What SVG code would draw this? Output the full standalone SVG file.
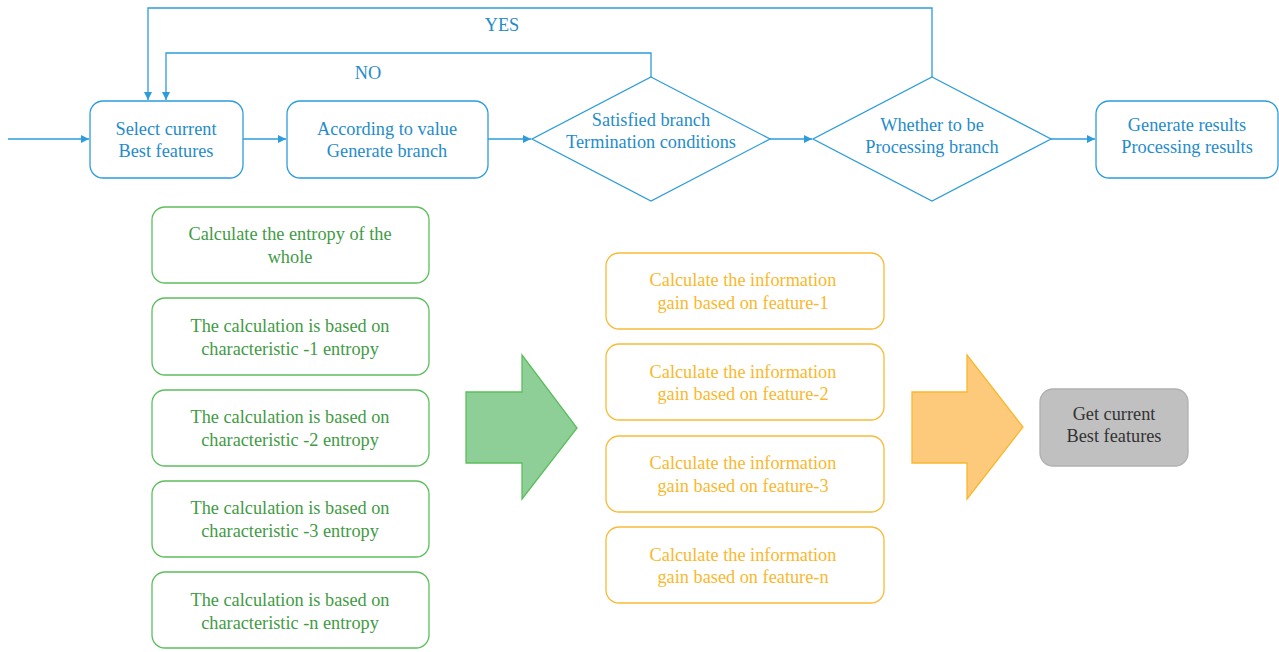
<svg xmlns="http://www.w3.org/2000/svg" width="1279" height="652" viewBox="0 0 1279 652">
<style>
.b{fill:#fff;stroke:#2d9cdb;stroke-width:1.3}
.bt{fill:#1f8ccb}
.g{fill:#fff;stroke:#5cbf5c;stroke-width:1.3}
.gt{fill:#3f9b45}
.o{fill:#fff;stroke:#f9bb36;stroke-width:1.3}
.ot{fill:#f9b82e}
.ln{fill:none;stroke:#2d9cdb;stroke-width:1.3}
</style>
<defs>
<marker id="ar" viewBox="0 0 10 10" refX="10" refY="5" markerWidth="8" markerHeight="8" markerUnits="userSpaceOnUse" orient="auto">
<path d="M0,0 L10,5 L0,10 z" fill="#2d9cdb"/>
</marker>
</defs>
<rect width="1279" height="652" fill="#fff"/>
<g font-family="'Liberation Serif', 'Times New Roman', serif" font-size="18.3" text-anchor="middle">
<g id="connectors">
<line class="ln" x1="8" y1="139" x2="89" y2="139" marker-end="url(#ar)"/>
<line class="ln" x1="243" y1="139" x2="286" y2="139" marker-end="url(#ar)"/>
<line class="ln" x1="488" y1="139" x2="531" y2="139" marker-end="url(#ar)"/>
<line class="ln" x1="770" y1="139" x2="812" y2="139" marker-end="url(#ar)"/>
<line class="ln" x1="1051" y1="139" x2="1095" y2="139" marker-end="url(#ar)"/>
<polyline class="ln" points="651,77 651,53 166,53 166,100" marker-end="url(#ar)"/>
<polyline class="ln" points="932,77 932,8 148,8 148,100" marker-end="url(#ar)"/>
<text x="502" y="31" class="bt">YES</text>
<text x="368" y="79" class="bt">NO</text>
</g>
<g id="n1"><rect class="b" x="90" y="101" width="153" height="77" rx="13"/><text class="bt" x="166" y="135">Select current</text><text class="bt" x="166" y="157">Best features</text></g>
<g id="n2"><rect class="b" x="287" y="101" width="201" height="77" rx="13"/><text class="bt" x="387" y="135">According to value</text><text class="bt" x="387" y="157">Generate branch</text></g>
<g id="n3"><polygon class="b" points="651,77 770,139 651,201 532,139"/><text class="bt" x="651" y="126">Satisfied branch</text><text class="bt" x="651" y="148">Termination conditions</text></g>
<g id="n4"><polygon class="b" points="932,77 1051,139 932,201 813,139"/><text class="bt" x="932" y="131">Whether to be</text><text class="bt" x="932" y="153">Processing branch</text></g>
<g id="n5"><rect class="b" x="1096" y="101" width="182" height="77" rx="13"/><text class="bt" x="1187" y="131">Generate results</text><text class="bt" x="1187" y="153">Processing results</text></g>
<g id="g0"><rect class="g" x="152" y="207" width="277" height="76" rx="13"/><text class="gt" x="290" y="240">Calculate the entropy of the</text><text class="gt" x="290" y="263">whole</text></g>
<g id="g1"><rect class="g" x="152" y="298" width="277" height="77" rx="13"/><text class="gt" x="290" y="332">The calculation is based on</text><text class="gt" x="290" y="355">characteristic -1 entropy</text></g>
<g id="g2"><rect class="g" x="152" y="390" width="277" height="76" rx="13"/><text class="gt" x="290" y="423">The calculation is based on</text><text class="gt" x="290" y="446">characteristic -2 entropy</text></g>
<g id="g3"><rect class="g" x="152" y="481" width="277" height="76" rx="13"/><text class="gt" x="290" y="514">The calculation is based on</text><text class="gt" x="290" y="537">characteristic -3 entropy</text></g>
<g id="g4"><rect class="g" x="152" y="572" width="277" height="76" rx="13"/><text class="gt" x="290" y="606">The calculation is based on</text><text class="gt" x="290" y="629">characteristic -n entropy</text></g>
<g id="arrowGreen"><polygon points="466,392 522,392 522,355 577,428 522,499 522,463 466,463" fill="#8dcf97" stroke="#5cbf5c" stroke-width="1.3"/></g>
<g id="o1"><rect class="o" x="606" y="253" width="278" height="76" rx="13"/><text class="ot" x="743" y="286">Calculate the information</text><text class="ot" x="743" y="309">gain based on feature-1</text></g>
<g id="o2"><rect class="o" x="606" y="344" width="278" height="76" rx="13"/><text class="ot" x="743" y="378">Calculate the information</text><text class="ot" x="743" y="400">gain based on feature-2</text></g>
<g id="o3"><rect class="o" x="606" y="436" width="278" height="76" rx="13"/><text class="ot" x="743" y="469">Calculate the information</text><text class="ot" x="743" y="492">gain based on feature-3</text></g>
<g id="o4"><rect class="o" x="606" y="527" width="278" height="76" rx="13"/><text class="ot" x="743" y="561">Calculate the information</text><text class="ot" x="743" y="583">gain based on feature-n</text></g>
<g id="arrowOrange"><polygon points="912,392 967,392 967,355 1023,427 967,499 967,463 912,463" fill="#fdc97b" stroke="#f9b82e" stroke-width="1.3"/></g>
<g id="best"><rect x="1040" y="389" width="148" height="77" rx="13" fill="#c0c0c0" stroke="#b0b0b0" stroke-width="1.3"/><text x="1114" y="420" fill="#333">Get current</text><text x="1114" y="442" fill="#333">Best features</text></g>
</g>
</svg>
